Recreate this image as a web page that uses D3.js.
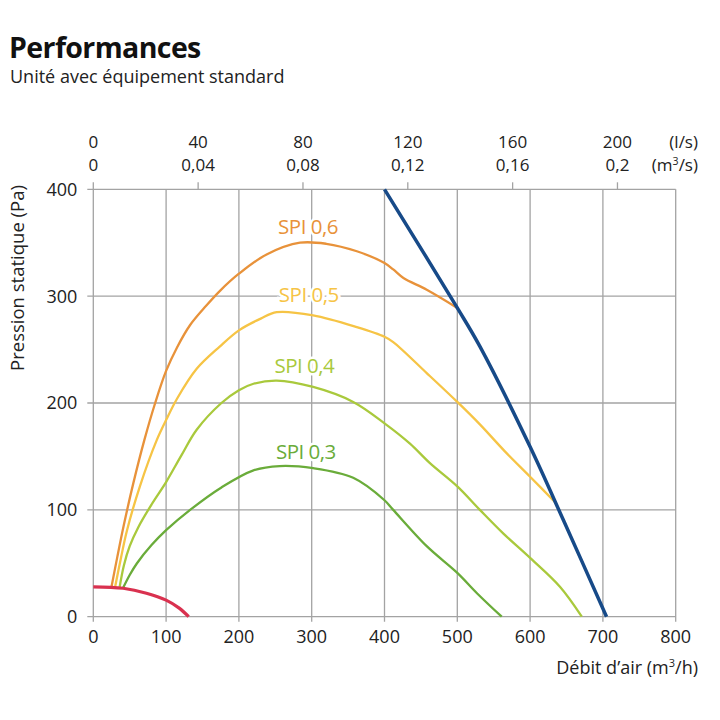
<!DOCTYPE html>
<html>
<head>
<meta charset="utf-8">
<script src="https://cdn.jsdelivr.net/npm/d3@7"></script>
<style>
  body { margin: 0; background: #fff; }
  svg { font-family: "Open Sans", "Noto Sans", sans-serif; }
</style>
</head>
<body>
<div id="chart"></div>
<script>
// tick values
const flowTicks = [0, 100, 200, 300, 400, 500, 600, 700, 800]   // m3/h
const pressureTicks = [0, 100, 200, 300, 400]                   // Pa
const lsTicks = [0, 40, 80, 120, 160, 200]                      // l/s
const m3sLabels = ['0', '0,04', '0,08', '0,12', '0,16', '0,2']

// SPI curves, [m3/h, Pa]
const spi06 = [[25, 28], [33, 56], [42, 86], [55, 125], [70, 165], [85, 200], [100, 230], [115, 252], [133, 273], [155, 291], [174, 305], [200, 321], [238, 339], [284, 350], [320, 349], [362, 342], [400, 331], [412, 325], [426, 317], [458, 306], [500, 289]]
const spi05 = [[30, 28], [38, 55], [46, 80], [64, 122], [87, 165], [100, 184], [115, 204], [142, 232], [174, 253], [200, 268], [230, 279], [252, 285], [302, 282], [362, 271], [400, 262], [412, 257], [458, 228], [500, 201], [531, 180], [565, 155], [600, 131], [636, 106]]
const spi04 = [[36, 27], [42, 48], [50, 66], [62, 84], [80, 105], [100, 126], [121, 151], [142, 175], [176, 200], [200, 212], [220, 218], [252, 221], [302, 215], [357, 201], [400, 181], [435, 162], [462, 144], [500, 122], [531, 100], [563, 78], [600, 55], [641, 28], [671, 0]]
const spi03 = [[41, 27], [50, 39], [60, 50], [80, 67], [100, 81], [133, 100], [176, 121], [220, 137], [256, 141], [302, 139], [357, 130], [400, 109], [412, 100], [458, 66], [500, 41], [527, 22], [561, 0]]
const systemCurve = [[400, 400], [500, 289], [531, 253], [600, 159], [646, 90], [705, 0]]
const fanMin = [[0, 28], [41, 26.6], [73, 22], [100, 15.5], [118, 8], [131, 0]]

const spiLabels = ['SPI 0,6', 'SPI 0,5', 'SPI 0,4', 'SPI 0,3']
const spiLabelPos = [[295, 365], [296, 302], [290, 235], [292, 155]]

const width = 720, height = 720
const margin = { top: 189.3, right: 44.3, bottom: 103.3, left: 93.3 }
const innerW = width - margin.left - margin.right
const innerH = height - margin.top - margin.bottom

const svg = d3.select('#chart').append('svg')
  .attr('width', width)
  .attr('height', height)

svg.append('text')
  .attr('x', 9).attr('y', 58)
  .attr('font-size', 28.5).attr('font-weight', 'bold').attr('fill', '#111')
  .attr('letter-spacing', -0.6)
  .text('Performances')
svg.append('text')
  .attr('x', 10).attr('y', 83)
  .attr('font-size', 18).attr('fill', '#222')
  .text('Unité avec équipement standard')

const g = svg.append('g').attr('transform', `translate(${margin.left},${margin.top})`)

const x = d3.scaleLinear().domain([0, 800]).range([0, innerW])
const y = d3.scaleLinear().domain([0, 400]).range([innerH, 0])

const gridColor = '#a3a3a3'

// grid
g.selectAll('.vgrid').data(flowTicks).enter().append('line')
  .attr('x1', d => x(d)).attr('x2', d => x(d))
  .attr('y1', 0).attr('y2', innerH + 5)
  .attr('stroke', gridColor).attr('stroke-width', 1.3)
g.selectAll('.hgrid').data(pressureTicks).enter().append('line')
  .attr('x1', -6).attr('x2', innerW)
  .attr('y1', d => y(d)).attr('y2', d => y(d))
  .attr('stroke', gridColor).attr('stroke-width', 1.3)

// top ticks (l/s)
g.selectAll('.ttick').data(lsTicks).enter().append('line')
  .attr('x1', d => x(d * 3.6)).attr('x2', d => x(d * 3.6))
  .attr('y1', 0).attr('y2', -7)
  .attr('stroke', gridColor).attr('stroke-width', 1.3)

const labelColor = '#222'
const fs = 18
const topFs = 17

g.selectAll('.xlab').data(flowTicks).enter().append('text')
  .attr('x', d => x(d)).attr('y', innerH + 26)
  .attr('text-anchor', 'middle').attr('font-size', fs).attr('fill', labelColor)
  .text(d => d)
g.selectAll('.ylab').data(pressureTicks).enter().append('text')
  .attr('x', -16).attr('y', d => y(d) + 6.5)
  .attr('text-anchor', 'end').attr('font-size', fs).attr('fill', labelColor)
  .text(d => d)
g.selectAll('.lslab').data(lsTicks).enter().append('text')
  .attr('x', d => x(d * 3.6)).attr('y', -41)
  .attr('text-anchor', 'middle').attr('font-size', topFs).attr('fill', labelColor)
  .text(d => d)
g.selectAll('.m3slab').data(lsTicks).enter().append('text')
  .attr('x', d => x(d * 3.6)).attr('y', -18)
  .attr('text-anchor', 'middle').attr('font-size', topFs).attr('fill', labelColor)
  .text((d, i) => m3sLabels[i])

g.append('text')
  .attr('x', 698 - margin.left).attr('y', -41)
  .attr('text-anchor', 'end').attr('font-size', topFs).attr('fill', labelColor)
  .text('(l/s)')
g.append('text')
  .attr('x', 698 - margin.left).attr('y', -18)
  .attr('text-anchor', 'end').attr('font-size', topFs).attr('fill', labelColor)
  .html('(m<tspan dy="-6" font-size="10.5">3</tspan><tspan dy="6">/s)</tspan>')
g.append('text')
  .attr('x', 698 - margin.left).attr('y', innerH + 57)
  .attr('text-anchor', 'end').attr('font-size', fs).attr('fill', labelColor)
  .html('Débit d’air (m<tspan dy="-7" font-size="11">3</tspan><tspan dy="7">/h)</tspan>')
svg.append('text')
  .attr('transform', 'translate(24,278) rotate(-90)')
  .attr('text-anchor', 'middle').attr('font-size', 18.5).attr('fill', labelColor)
  .text('Pression statique (Pa)')

// curves
const line = d3.line()
  .x(d => x(d[0]))
  .y(d => y(d[1]))
  .curve(d3.curveCatmullRom.alpha(0.5))

const spiSeries = [spi06, spi05, spi04, spi03]
const spiColors = ['#e8923a', '#f6c445', '#a9c93c', '#6aac3a']

spiSeries.forEach((s, i) => {
  g.append('path')
    .attr('d', line(s))
    .attr('fill', 'none')
    .attr('stroke', spiColors[i])
    .attr('stroke-width', 2.3)
})

g.append('path')
  .attr('d', line(fanMin))
  .attr('fill', 'none').attr('stroke', '#d9314f').attr('stroke-width', 3.2)

g.append('path')
  .attr('d', line(systemCurve))
  .attr('fill', 'none').attr('stroke', '#174a88').attr('stroke-width', 3.5)

spiLabels.forEach((t, i) => {
  g.append('text')
    .attr('x', x(spiLabelPos[i][0])).attr('y', y(spiLabelPos[i][1]) + 7.5)
    .attr('text-anchor', 'middle').attr('font-size', 20.5)
    .attr('letter-spacing', -0.5)
    .attr('fill', spiColors[i])
    .attr('stroke', '#fff').attr('stroke-width', 5).attr('paint-order', 'stroke')
    .text(t)
})
</script>
</body>
</html>
